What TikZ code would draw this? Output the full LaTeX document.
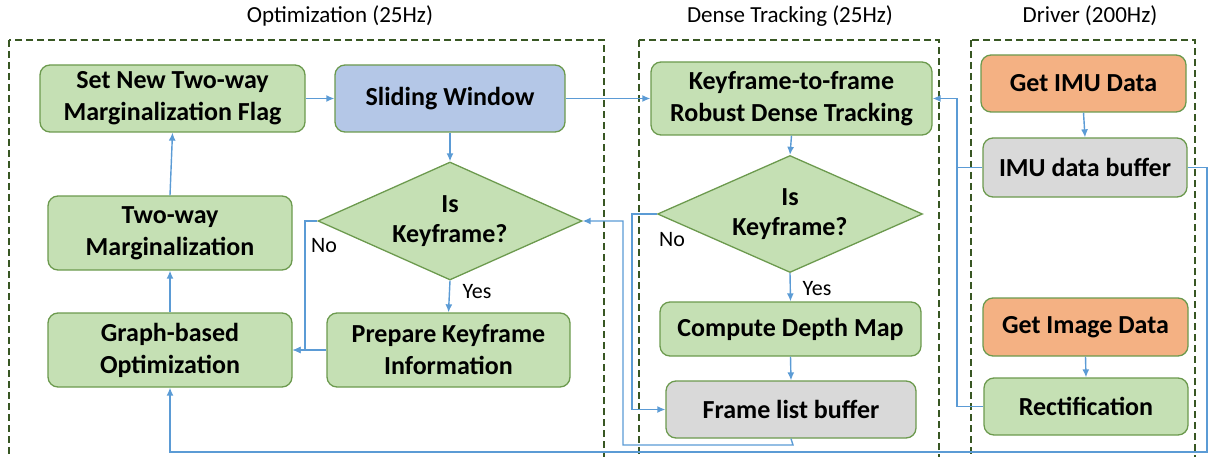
\documentclass[tikz,border=0pt]{standalone}
\usepackage{fontspec}
\setmainfont{Carlito}
\usetikzlibrary{shapes.geometric,arrows.meta}
\definecolor{boxgreen}{HTML}{C5E0B4}
\definecolor{boxblue}{HTML}{B4C7E7}
\definecolor{boxorange}{HTML}{F4B183}
\definecolor{boxgray}{HTML}{D9D9D9}
\definecolor{edgegreen}{HTML}{6C9A4E}
\definecolor{framegreen}{HTML}{385723}
\definecolor{flowblue}{HTML}{5B9BD5}
\tikzset{
  procbox/.style={draw=edgegreen, line width=1.3pt, rounded corners=10pt, inner sep=0pt,
    align=center, font=\fontsize{26}{32}\selectfont\bfseries},
  greenbox/.style={procbox, fill=boxgreen},
  bluebox/.style={procbox, fill=boxblue},
  orangebox/.style={procbox, fill=boxorange},
  graybox/.style={procbox, fill=boxgray},
  decision/.style={diamond, shape aspect=2.24, draw=edgegreen, line width=1.3pt, fill=boxgreen, inner sep=0pt,
    align=center, font=\fontsize{26}{30}\selectfont\bfseries},
  groupframe/.style={draw=framegreen, line width=2.6pt, dash pattern=on 7pt off 4pt},
  grouptitle/.style={font=\fontsize{23}{28}\selectfont},
  flow/.style={draw=flowblue, line width=1.4pt, -{Latex[length=8pt,width=7pt]}},
  wire/.style={draw=flowblue, line width=1.4pt},
  branch/.style={font=\fontsize{22}{26}\selectfont}
}
\begin{document}
\begin{tikzpicture}[x=1pt,y=-1pt]
\useasboundingbox (0,0) rectangle (1209,457);
\clip (0,0) rectangle (1209,457);

% group frames and titles
\draw[groupframe] (9,40) rectangle (604,480);
\draw[groupframe] (639,40) rectangle (939,480);
\draw[groupframe] (971,40) rectangle (1195,480);
\node[grouptitle] (toptim) at (340,16) {Optimization (25Hz)};
\node[grouptitle] (tdense) at (790,16) {Dense Tracking (25Hz)};
\node[grouptitle] (tdriver) at (1090,16) {Driver (200Hz)};

% optimization thread
\node[greenbox, minimum width=265pt, minimum height=67pt] (flag) at (172.5,98.5) {Set New Two-way\\Marginalization Flag};
\node[bluebox, minimum width=230pt, minimum height=67pt] (sw) at (450,98.5) {Sliding Window};
\node[decision, minimum width=264pt, minimum height=118pt] (d1) at (450,221) {Is\\Keyframe?};
\node[greenbox, minimum width=244pt, minimum height=74pt] (twm) at (170,233) {Two-way\\Marginalization};
\node[greenbox, minimum width=244pt, minimum height=74pt] (gbo) at (170,350) {Graph-based\\Optimization};
\node[greenbox, minimum width=243pt, minimum height=74pt] (prep) at (448.5,350) {Prepare Keyframe\\Information};

% dense tracking thread
\node[greenbox, minimum width=281pt, minimum height=73pt] (kf) at (791.5,98.5) {Keyframe-to-frame\\Robust Dense Tracking};
\node[decision, minimum width=265pt, minimum height=117pt] (d2) at (790,214) {Is\\Keyframe?};
\node[greenbox, minimum width=261pt, minimum height=54pt] (cdm) at (790.5,329) {Compute Depth Map};
\node[graybox, minimum width=250pt, minimum height=57pt] (flb) at (791,409.5) {Frame list buffer};

% driver thread
\node[orangebox, minimum width=205pt, minimum height=57pt] (gimu) at (1083.5,83.5) {Get IMU Data};
\node[graybox, minimum width=204pt, minimum height=59pt] (imub) at (1085,167.5) {IMU data buffer};
\node[orangebox, minimum width=205pt, minimum height=58pt] (gimg) at (1085.5,327) {Get Image Data};
\node[greenbox, minimum width=204pt, minimum height=57pt] (rect) at (1086,406.5) {Rectification};

% routing points
\coordinate (no1) at (305,221);
\coordinate (no2) at (632,214);
\coordinate (fl1) at (793,445);
\coordinate (fl2) at (623,445);
\coordinate (fl3) at (623,221);
\coordinate (imuj) at (957,167.5);
\coordinate (rectj) at (957,406.5);
\coordinate (ib1) at (1207,167.5);
\coordinate (ib2) at (1207,452);
\coordinate (ib3) at (170,452);

% optimization flow
\draw[flow] (flag.east) -- (sw.west);
\draw[flow] (sw.south) -- (d1.north);
\draw[flow] (d1.south) -- (prep.north);
\draw[flow] (prep.west) -- (gbo.east);
\draw[flow] (d1.west) -- (no1) |- (gbo.east);
\draw[flow] (gbo.north) -- (twm.south);
\draw[flow] (twm.north) -- (flag.south);
\node[branch] (no1lbl) at (324,246) {No};
\node[branch] (yes1lbl) at (477,292) {Yes};

% dense tracking flow
\draw[flow] (sw.east) -- (kf.west);
\draw[flow] (kf.south) -- (d2.north);
\draw[flow] (d2.south) -- (cdm.north);
\draw[flow] (cdm.south) -- (flb.north);
\draw[flow] (d2.west) -- (no2) |- (flb.west);
\draw[flow] (flb.south) -- (fl1) -- (fl2) -- (fl3) -- (d1.east);
\node[branch] (no2lbl) at (672,240) {No};
\node[branch] (yes2lbl) at (817,289) {Yes};

% driver flow
\draw[flow] (gimu.south) -- (imub.north);
\draw[flow] (gimg.south) -- (rect.north);
\draw[flow] (imub.west) -- (imuj) |- (kf.east);
\draw[wire] (rect.west) -- (rectj) -- (imuj);
\draw[flow] (imub.east) -- (ib1) -- (ib2) -- (ib3) -- (gbo.south);
\end{tikzpicture}
\end{document}
